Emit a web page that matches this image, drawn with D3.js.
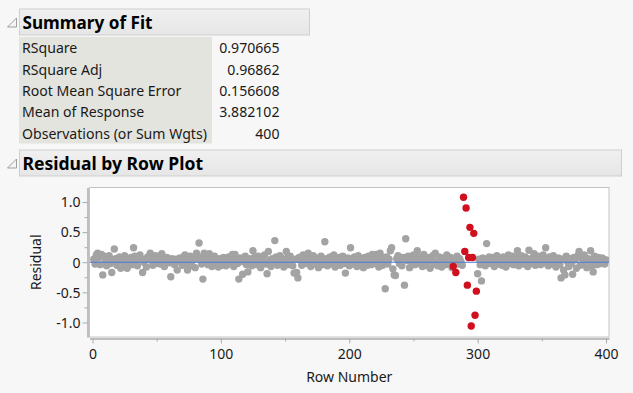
<!DOCTYPE html>
<html><head><meta charset="utf-8">
<script src="https://cdn.jsdelivr.net/npm/d3@7"></script>
<style>
body{margin:0;background:#f7f7f7;overflow:hidden}
text{font-family:"Noto Sans","Open Sans",sans-serif;fill:#1a1a1a}
</style>
</head><body><svg id="c" width="633" height="393"></svg>
<script>
const fitLabels = ["RSquare","RSquare Adj","Root Mean Square Error","Mean of Response","Observations (or Sum Wgts)"];
const fitValues = ["0.970665","0.96862","0.156608","3.882102","400"];
const sectionTitles = ["Summary of Fit","Residual by Row Plot"];
const xTicks = [0,100,200,300,400];
const xMinorTicks = [50,150,250,350];
const yTicks = [-1,-0.5,0,0.5,1];
const yTickLabels = ["-1.0","-0.5","0","0.5","1.0"];
const yMinorTicks = [-0.75,-0.25,0.25,0.75];
const xTitle = "Row Number";
const yTitle = "Residual";
const highlightedRows = [281,283,289,290,291,292,293,294,295,296,297,298,299];
const residuals = [
0.05,-0.03,0.12,0.15,0.08,-0.04,0.13,-0.21,0.10,0.02,-0.06,0.07,0.11,-0.02,-0.17,0.04,0.22,0.06,-0.05,0.03,
0.09,-0.10,0.05,0.01,0.11,-0.07,-0.10,0.06,0.03,0.08,-0.04,0.24,0.10,0.02,-0.06,0.07,0.12,0.05,-0.17,0.00,
0.04,-0.08,0.09,0.06,0.15,0.03,-0.05,0.08,0.11,-0.02,0.06,0.10,-0.03,0.14,0.05,-0.07,0.02,0.08,0.04,-0.01,
-0.24,0.06,0.03,-0.04,0.05,-0.13,0.02,0.07,0.01,-0.05,0.09,0.12,-0.02,-0.13,0.04,0.10,-0.06,0.03,0.07,-0.09,
0.15,0.06,0.32,0.08,-0.03,-0.28,0.15,0.02,0.09,-0.04,0.14,0.05,-0.07,0.07,0.10,-0.02,0.04,-0.08,0.06,0.01,
-0.05,0.08,0.03,-0.06,0.05,0.09,-0.03,0.02,0.13,-0.07,0.13,0.04,-0.02,-0.28,0.07,0.01,-0.20,0.05,0.10,-0.04,
-0.16,0.06,0.03,-0.06,0.19,0.08,0.02,-0.04,0.10,0.05,-0.09,0.07,0.01,0.12,-0.03,-0.19,0.18,0.04,-0.07,0.06,
0.02,0.36,0.09,-0.05,0.04,0.11,-0.02,0.06,-0.08,0.03,0.18,0.07,-0.04,0.10,0.01,-0.06,-0.18,0.05,-0.17,-0.26,
0.08,0.03,-0.05,0.12,0.06,-0.02,0.09,0.15,0.04,-0.07,0.02,0.11,-0.03,0.07,0.01,-0.09,0.05,0.10,-0.04,0.03,
0.34,0.06,-0.06,0.02,0.09,-0.03,0.05,0.12,-0.08,0.04,0.01,0.08,-0.05,0.06,0.10,-0.02,-0.18,0.03,0.07,-0.06,
0.24,0.05,-0.03,0.09,0.02,-0.07,0.11,0.04,-0.01,0.06,-0.09,0.08,0.03,-0.05,0.10,0.01,-0.04,0.13,0.06,-0.02,
0.13,0.04,-0.08,0.15,0.02,-0.05,0.07,-0.44,0.09,-0.03,0.05,0.19,0.24,-0.11,-0.21,-0.22,0.06,0.11,-0.02,0.04,
-0.06,0.08,-0.38,0.39,0.03,0.10,-0.09,0.05,0.01,0.12,-0.04,0.07,0.19,-0.02,0.09,0.04,-0.07,0.13,0.02,-0.05,
0.08,0.03,-0.10,0.06,0.11,-0.03,0.15,0.00,-0.06,0.09,0.04,-0.08,0.07,0.02,-0.04,0.12,0.05,-0.02,0.08,-0.09,
-0.07,0.04,-0.17,0.10,-0.03,0.06,0.01,-0.05,1.08,0.18,0.90,-0.38,0.08,0.58,-1.06,0.08,0.48,-0.88,-0.48,-0.19,
0.05,-0.04,-0.31,0.07,0.02,-0.06,0.31,0.03,0.09,-0.02,0.05,0.08,-0.07,0.04,0.11,-0.03,0.06,0.01,-0.05,0.09,
0.03,-0.08,0.07,0.12,-0.02,0.05,0.10,-0.04,0.02,0.08,0.19,-0.06,0.04,0.11,0.01,-0.03,0.09,0.06,-0.07,0.20,
0.05,-0.02,0.08,0.14,-0.05,0.03,0.10,0.07,-0.04,0.02,0.12,-0.01,0.24,0.06,-0.06,0.09,0.04,-0.03,0.11,0.05,
-0.08,0.02,0.07,-0.04,-0.26,0.05,-0.13,-0.21,0.10,0.01,-0.07,0.06,-0.02,-0.20,0.08,0.04,-0.10,0.11,0.18,-0.05,
0.07,-0.03,0.12,0.04,-0.09,0.06,0.02,0.19,-0.06,-0.16,0.10,0.03,-0.04,0.08,0.01,-0.02,0.07,0.05,-0.03,0.04
];

const svg = d3.select("#c");
const defs = svg.append("defs");
const grad = defs.append("linearGradient").attr("id","hdr").attr("x1",0).attr("y1",0).attr("x2",0).attr("y2",1);
grad.append("stop").attr("offset","0%").attr("stop-color","#f0f0f0");
grad.append("stop").attr("offset","100%").attr("stop-color","#e6e6e6");

function header(y, w, title, tw){
  svg.append("rect").attr("x",19.5).attr("y",y+0.5).attr("width",w).attr("height",26)
    .attr("fill","url(#hdr)").attr("stroke","#cfcfcf");
  svg.append("path").attr("d",`M16.5,${y+9.5} L16.5,${y+18.5} L7.5,${y+18.5} Z`)
    .attr("fill","#f4f4f4").attr("stroke","#8a8a8a").attr("stroke-width",0.8);
  svg.append("text").attr("x",22.5).attr("y",y+20.5).attr("font-size",18.5).attr("font-weight","bold")
    .attr("textLength",tw).attr("lengthAdjust","spacingAndGlyphs")
    .style("fill","#000").text(title);
}
header(8.5, 290, sectionTitles[0], 130);

// Summary table
svg.append("rect").attr("x",19).attr("y",37).attr("width",193).attr("height",106.5).attr("fill","#e4e4df");
const rowY = d3.scaleBand().domain(d3.range(fitLabels.length)).range([37,143.5]);
fitLabels.forEach((l,i)=>{
  svg.append("text").attr("x",22).attr("y",rowY(i)+16.3).attr("font-size",14.1).text(l);
  svg.append("text").attr("x",279.5).attr("y",rowY(i)+16.3).attr("font-size",14.1).attr("text-anchor","end").text(fitValues[i]);
});

header(149.5, 602, sectionTitles[1], 180.5);

// Plot
const fL=89.5, fR=609, fT=187.5, fB=337;
const x = d3.scaleLinear().domain([-2.33,402.33]).range([fL,fR]);
const y = d3.scaleLinear().domain([-1.2417,1.2417]).range([fB,fT]);

svg.append("rect").attr("x",fL).attr("y",fT).attr("width",fR-fL).attr("height",fB-fT)
  .attr("fill","#fff").attr("stroke","#c4c4c4");

const yAx = svg.append("g").attr("transform",`translate(${fL-2},0)`)
  .call(d3.axisLeft(y).tickValues(yTicks).tickSize(5).tickSizeOuter(0).tickFormat((d,i)=>yTickLabels[i]));
const yAxMinor = svg.append("g").attr("transform",`translate(${fL-2},0)`)
  .call(d3.axisLeft(y).tickValues(yMinorTicks).tickSize(3).tickSizeOuter(0).tickFormat(""));
const xAx = svg.append("g").attr("transform",`translate(0,${fB+1.5})`)
  .call(d3.axisBottom(x).tickValues(xTicks).tickSize(5).tickSizeOuter(0).tickFormat(d3.format("d")));
const xAxMinor = svg.append("g").attr("transform",`translate(0,${fB+1.5})`)
  .call(d3.axisBottom(x).tickValues(xMinorTicks).tickSize(3).tickSizeOuter(0).tickFormat(""));
[yAx,yAxMinor,xAx,xAxMinor].forEach(g=>{
  g.selectAll("path,line").attr("stroke","#ababab");
  g.selectAll("text").attr("font-size",14).style("font-family","'Noto Sans',sans-serif").attr("fill","#1a1a1a");
});
yAx.selectAll("text").attr("x",-7).attr("dy","0.34em");
xAx.selectAll("text").attr("y",9).attr("dy","0.8em");

svg.append("text").attr("x",(x(0)+x(400))/2).attr("y",382).attr("text-anchor","middle").attr("font-size",14).text(xTitle);
svg.append("text").attr("transform",`translate(41,${y(0)}) rotate(-90)`).attr("text-anchor","middle").attr("font-size",14).text(yTitle);

const data = residuals.map((v,i)=>({row:i+1,v,hi:highlightedRows.includes(i+1)}));
const clip = defs.append("clipPath").attr("id","pc").append("rect").attr("x",fL).attr("y",fT).attr("width",fR-fL).attr("height",fB-fT);
const pg = svg.append("g").attr("clip-path","url(#pc)");
pg.selectAll("circle.g").data(data.filter(d=>!d.hi)).join("circle").attr("class","g")
  .attr("cx",d=>x(d.row)).attr("cy",d=>y(d.v)).attr("r",3.7).attr("fill","#a3a3a3");
pg.append("line").attr("x1",fL).attr("x2",fR).attr("y1",y(0)).attr("y2",y(0)).attr("stroke","#4a78d6").attr("stroke-width",1.2);
pg.selectAll("circle.r").data(data.filter(d=>d.hi)).join("circle").attr("class","r")
  .attr("cx",d=>x(d.row)).attr("cy",d=>y(d.v)).attr("r",3.7).attr("fill","#d0101f");
</script>
</body></html>
